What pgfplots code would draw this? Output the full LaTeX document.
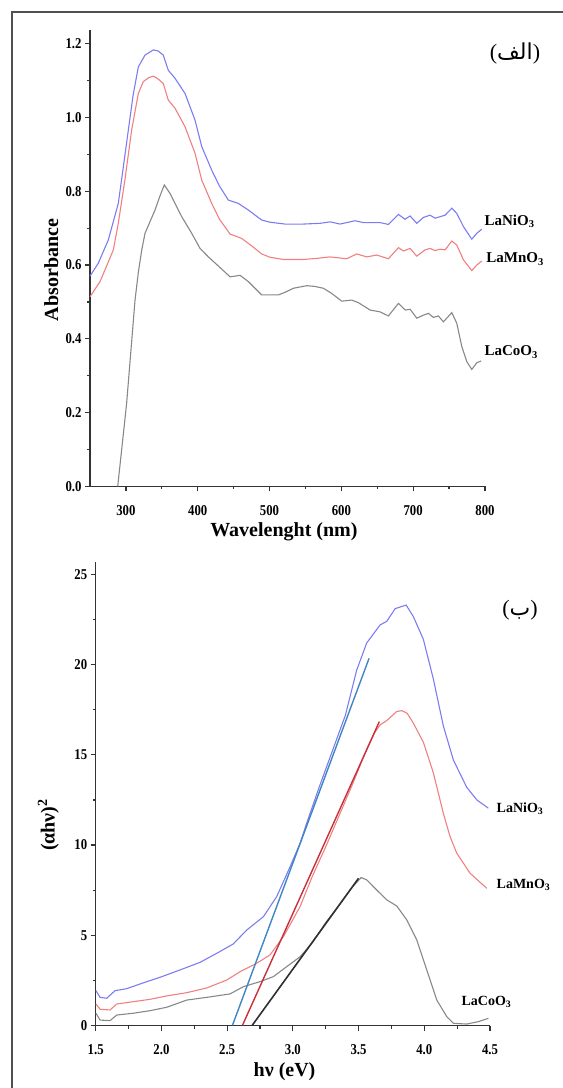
\documentclass[border=0pt]{standalone}
\usepackage{fontspec}
\setmainfont{Liberation Serif}
\newfontfamily\arabicfont[Script=Arabic]{DejaVu Sans}
\TeXXeTstate=1
\usepackage{graphicx}
\usepackage{pgfplots}
\pgfplotsset{compat=1.18}
\definecolor{cblue}{HTML}{7C7CF2}
\definecolor{cred}{HTML}{F08080}
\definecolor{cgray}{HTML}{888888}
\definecolor{tblue}{HTML}{3F86C4}
\definecolor{tred}{HTML}{C8303C}
\definecolor{tblack}{HTML}{303030}
\definecolor{axc}{HTML}{333333}
\definecolor{framec}{HTML}{505050}
\pgfplotsset{
  myaxis/.style={
    scale only axis,
    axis x line=bottom, axis y line=left,
    axis line style={-, line width=1.4bp, color=axc},
    tick align=outside,
    major tick length=5bp, minor tick length=3bp,
    tick style={line width=1.2bp, color=axc},
    tick label style={font=\fontsize{15bp}{18bp}\selectfont\bfseries, color=black},
    xticklabel style={yshift=-11bp},
    label style={font=\fontsize{20bp}{24bp}\selectfont\bfseries, color=black},
    clip=false,
    minor x tick num=1, minor y tick num=1,
    /pgf/number format/assume math mode=true,
    xticklabel={\scalebox{0.85}[1]{\pgfmathprintnumber{\tick}}},
    yticklabel={\scalebox{0.85}[1]{\pgfmathprintnumber{\tick}}},
  },
}
\tikzset{
  slab/.style={anchor=west, font=\fontsize{15bp}{18bp}\selectfont\bfseries},
  slabs/.style={anchor=west, font=\fontsize{14bp}{17bp}\selectfont\bfseries},
}
\begin{document}
\begin{tikzpicture}
\useasboundingbox (0,0) rectangle (563bp,1088bp);
\draw[line width=2bp, color=framec] (12bp,-2bp) -- (12bp,1076bp) -- (566bp,1076bp);
% ---------------- top panel ----------------
\begin{axis}[myaxis,
  at={(90bp,601.6bp)}, anchor=south west,
  width=395bp, height=456.4bp,
  xmin=250, xmax=800, ymin=0, ymax=1.237,
  xtick={300,400,500,600,700,800},
  ytick={0,0.2,0.4,0.6,0.8,1.0,1.2},
  yticklabel style={/pgf/number format/fixed, /pgf/number format/zerofill, /pgf/number format/precision=1},
  xlabel={Wavelenght (nm)},
  ylabel={Absorbance},
  xlabel style={at={(axis description cs:0.491,-0.1096)}, anchor=base},
  ylabel style={at={(axis description cs:-0.081,0.474)}, anchor=base},
]
\addplot[cblue, line width=1.1bp] coordinates {
(250,0.570)(261.6,0.605)(275.5,0.668)(289.4,0.767)(296,0.86)(303.4,0.966)(310,1.06)(317.3,1.137)(326.6,1.169)(338.2,1.183)(345,1.180)(352,1.169)(359,1.128)(368.4,1.106)(382.3,1.065)(396.2,0.993)(405.6,0.921)(419.5,0.857)(430,0.815)(442.6,0.776)(456.5,0.767)(470.5,0.749)(480,0.735)(489.1,0.722)(500.7,0.716)(521.5,0.711)(547,0.711)(570.3,0.713)(584.3,0.717)(598.2,0.711)(619,0.720)(630.7,0.715)(653.9,0.715)(665.5,0.710)(679.5,0.737)(688.7,0.724)(695.7,0.733)(705,0.713)(714.2,0.729)(723.5,0.735)(730.5,0.727)(737.5,0.731)(744.4,0.735)(753.8,0.754)(760.7,0.740)(770,0.704)(781.6,0.670)(788.6,0.686)(795.5,0.697)
};
\addplot[cred, line width=1.1bp] coordinates {
(250,0.514)(264,0.555)(282.5,0.641)(289.4,0.713)(298.7,0.832)(308,0.966)(317.3,1.065)(324.2,1.097)(332,1.108)(338.2,1.112)(345,1.104)(352,1.092)(359,1.047)(368.4,1.025)(382.3,0.975)(396.2,0.903)(405.6,0.830)(419.5,0.767)(430,0.725)(445,0.684)(461.3,0.672)(475,0.652)(489.1,0.630)(500.7,0.621)(519.2,0.615)(547,0.615)(565.7,0.618)(584.3,0.622)(607.5,0.617)(621.4,0.630)(635.4,0.622)(649.3,0.627)(665.5,0.617)(679.5,0.647)(686.5,0.638)(695.7,0.645)(705,0.624)(716.6,0.641)(723.5,0.645)(730.5,0.639)(737.5,0.643)(744.4,0.641)(753.8,0.665)(760.7,0.654)(770,0.614)(781.6,0.585)(788.6,0.600)(795.5,0.611)
};
\addplot[cgray, line width=1.1bp] coordinates {
(288.6,0.0)(301,0.225)(312.7,0.505)(317.3,0.58)(322,0.64)(326.6,0.686)(333,0.715)(340.5,0.749)(347,0.785)(353.5,0.817)(361.4,0.794)(377.7,0.731)(391.6,0.686)(403.2,0.645)(414.8,0.622)(430,0.595)(445,0.568)(459,0.572)(470.5,0.555)(489,0.519)(500.7,0.519)(512.3,0.519)(521.5,0.526)(533.2,0.537)(551.8,0.544)(563,0.542)(575,0.537)(586.6,0.523)(600.5,0.502)(614.4,0.505)(623.7,0.498)(640,0.478)(653.9,0.473)(665.5,0.462)(679.5,0.496)(688.7,0.478)(695.7,0.480)(705,0.456)(714.2,0.464)(721.2,0.469)(728.2,0.458)(735.1,0.462)(742.1,0.446)(753.8,0.471)(760.7,0.442)(767.7,0.379)(774.7,0.338)(781.6,0.317)(788.6,0.335)(794.6,0.340)
};
\node[slab] at (axis cs:794.6,0.719) {LaNiO\textsubscript{3}};
\node[slab] at (axis cs:797,0.616) {LaMnO\textsubscript{3}};
\node[slab] at (axis cs:794.6,0.364) {LaCoO\textsubscript{3}};
\end{axis}
\node[font=\fontsize{22bp}{26bp}\selectfont] at (515bp,1035bp) {(\hbox{\arabicfont\beginR الف\endR})};
% ---------------- bottom panel ----------------
\begin{axis}[myaxis,
  at={(95.7bp,62.5bp)}, anchor=south west,
  width=394.3bp, height=463.2bp,
  xmin=1.5, xmax=4.5, ymin=0, ymax=25.67,
  xtick={1.5,2.0,2.5,3.0,3.5,4.0,4.5},
  ytick={0,5,10,15,20,25},
  xticklabel style={/pgf/number format/fixed, /pgf/number format/zerofill, /pgf/number format/precision=1},
  xlabel={hν (eV)},
  ylabel={(αhν)\textsuperscript{2}},
  xlabel style={at={(axis description cs:0.479,-0.111)}, anchor=base},
  ylabel style={at={(axis description cs:-0.104,0.433)}, anchor=base},
]
\addplot[cblue, line width=1.1bp] coordinates {
(1.502,1.93)(1.533,1.56)(1.584,1.51)(1.647,1.93)(1.736,2.04)(1.837,2.30)(1.989,2.67)(2.142,3.08)(2.294,3.50)(2.421,4.00)(2.547,4.52)(2.649,5.29)(2.776,6.03)(2.877,7.14)(2.979,8.80)(3.055,10.1)(3.1,11.1)(3.2,13.2)(3.3,15.2)(3.4,17.2)(3.486,19.7)(3.562,21.2)(3.664,22.2)(3.715,22.4)(3.778,23.1)(3.862,23.3)(3.917,22.66)(3.993,21.4)(4.069,19.2)(4.145,16.6)(4.222,14.7)(4.323,13.2)(4.40,12.5)(4.488,12.04)
};
\addplot[cred, line width=1.1bp] coordinates {
(1.502,1.19)(1.533,0.90)(1.609,0.86)(1.66,1.19)(1.786,1.32)(1.913,1.45)(2.04,1.64)(2.193,1.82)(2.345,2.08)(2.497,2.52)(2.598,2.98)(2.725,3.45)(2.826,3.91)(2.928,4.92)(3.055,6.59)(3.15,8.3)(3.25,9.9)(3.35,11.6)(3.45,13.3)(3.55,15.1)(3.62,16.2)(3.664,16.66)(3.715,16.9)(3.79,17.4)(3.83,17.45)(3.87,17.3)(3.917,16.75)(3.993,15.7)(4.069,14.0)(4.145,11.76)(4.196,10.47)(4.247,9.55)(4.348,8.44)(4.476,7.6)
};
\addplot[cgray, line width=1.1bp] coordinates {
(1.502,0.68)(1.533,0.30)(1.609,0.27)(1.66,0.58)(1.786,0.68)(1.913,0.82)(2.04,1.01)(2.193,1.41)(2.345,1.56)(2.522,1.75)(2.623,2.15)(2.75,2.43)(2.852,2.71)(2.953,3.26)(3.055,3.81)(3.15,4.6)(3.25,5.7)(3.35,6.65)(3.45,7.65)(3.52,8.2)(3.562,8.07)(3.638,7.51)(3.715,6.96)(3.791,6.62)(3.867,5.85)(3.943,4.74)(4.019,3.08)(4.095,1.41)(4.171,0.49)(4.222,0.12)(4.323,0.08)(4.41,0.21)(4.488,0.40)
};
\addplot[tblue, line width=1.4bp] coordinates {(2.54,0)(3.58,20.35)};
\addplot[tred, line width=1.4bp] coordinates {(2.616,0)(3.658,16.84)};
\addplot[tblack, line width=1.6bp] coordinates {(2.69,0)(3.50,8.16)};
\node[slabs] at (axis cs:4.524,12.0) {LaNiO\textsubscript{3}};
\node[slabs] at (axis cs:4.524,7.79) {LaMnO\textsubscript{3}};
\node[slabs] at (axis cs:4.257,1.30) {LaCoO\textsubscript{3}};
\end{axis}
\node[font=\fontsize{22bp}{26bp}\selectfont] at (520bp,478bp) {(\hbox{\arabicfont\beginR ب\endR})};
\end{tikzpicture}
\end{document}
